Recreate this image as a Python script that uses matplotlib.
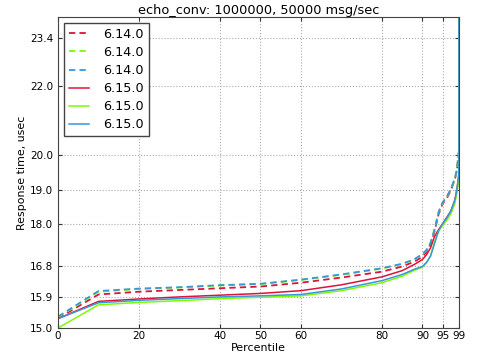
import numpy as np
import matplotlib
matplotlib.use("Agg")
import matplotlib.pyplot as plt

# percentiles sampled from the chart
pct = [0, 10, 20, 30, 40, 50, 60, 70, 80, 85, 88, 90, 91, 92, 93, 94,
       95, 96, 97, 98, 98.5, 99, 99]

# 6.14.0 runs (dashed)
old_red = [15.28, 15.97, 16.05, 16.10, 16.15, 16.20, 16.31, 16.46, 16.63, 16.78,
           16.92, 17.06, 17.20, 17.42, 17.80, 18.30, 18.60, 18.75, 18.98, 19.30,
           19.55, 20.10, 25.0]
old_green = [15.31, 16.05, 16.13, 16.17, 16.23, 16.27, 16.39, 16.54, 16.72, 16.85,
             16.98, 17.13, 17.25, 17.46, 17.85, 18.36, 18.63, 18.79, 19.01, 19.32,
             19.57, 20.12, 25.0]
old_blue = [15.33, 16.07, 16.14, 16.18, 16.24, 16.28, 16.40, 16.55, 16.73, 16.86,
            16.99, 17.14, 17.26, 17.47, 17.86, 18.36, 18.64, 18.80, 19.02, 19.33,
            19.58, 20.13, 25.0]

# 6.15.0 runs (solid)
new_red = [15.27, 15.77, 15.84, 15.90, 15.95, 16.00, 16.08, 16.25, 16.48, 16.66,
           16.84, 16.98, 17.12, 17.32, 17.65, 17.85, 18.02, 18.20, 18.38, 18.70,
           19.00, 19.40, 25.0]
new_green = [15.00, 15.67, 15.74, 15.79, 15.85, 15.89, 15.93, 16.08, 16.31, 16.50,
             16.67, 16.76, 16.88, 17.10, 17.50, 17.80, 17.97, 18.12, 18.30, 18.60,
             18.90, 19.30, 25.0]
new_blue = [15.27, 15.73, 15.80, 15.85, 15.90, 15.93, 15.97, 16.13, 16.37, 16.55,
            16.70, 16.78, 16.90, 17.08, 17.45, 17.82, 18.02, 18.18, 18.38, 18.70,
            19.00, 19.50, 25.0]

xticks = [0, 20, 40, 50, 60, 80, 90, 95, 99]
yticks = [15.0, 15.9, 16.8, 18.0, 19.0, 20.0, 22.0, 23.4]

red = "#dc143c"
green = "#7cfc00"
blue = "#3a96dd"

fig = plt.figure(figsize=(4.98, 3.6), dpi=100)
ax = fig.add_axes([0.1165, 0.0889, 0.805, 0.864])

dash = (0, (3.5, 2.3))
for vals, c in [(old_red, red), (old_green, green), (old_blue, blue)]:
    ax.plot(pct, vals, color=c, linestyle=dash, linewidth=1.3, label="6.14.0")
for vals, c in [(new_red, red), (new_green, green), (new_blue, blue)]:
    ax.plot(pct, vals, color=c, linestyle="-", linewidth=1.1, label="6.15.0")

ax.set_xlim(0, 99)
ax.set_ylim(15.0, 24.0)
ax.set_xticks(xticks)
ax.set_xticklabels([str(t) for t in xticks])
ax.set_yticks(yticks)
ax.set_yticklabels(["%.1f" % t for t in yticks])
ax.tick_params(direction="in", top=True, right=True, labelsize=7.5,
               length=3, width=0.8, color="#333333")
ax.tick_params(axis="x", pad=2.5)
ax.tick_params(axis="y", pad=3.5)
ax.grid(True, linestyle=":", color="#aaaaaa", linewidth=0.8)
for s in ax.spines.values():
    s.set_color("#444444")

ax.set_title("echo_conv: 1000000, 50000 msg/sec", fontsize=9.3, pad=2)
ax.set_xlabel("Percentile", fontsize=7.9, labelpad=1)
ax.set_ylabel("Response time, usec", fontsize=7.9)
ax.yaxis.set_label_coords(-0.077, 0.5)

leg = ax.legend(loc="upper left", fontsize=9.2, labelspacing=0.4,
                handlelength=1.6, handletextpad=1.1, borderaxespad=0.45,
                fancybox=False, framealpha=1)
leg.get_frame().set_edgecolor("#444444")

fig.savefig("out.png", dpi=100)
